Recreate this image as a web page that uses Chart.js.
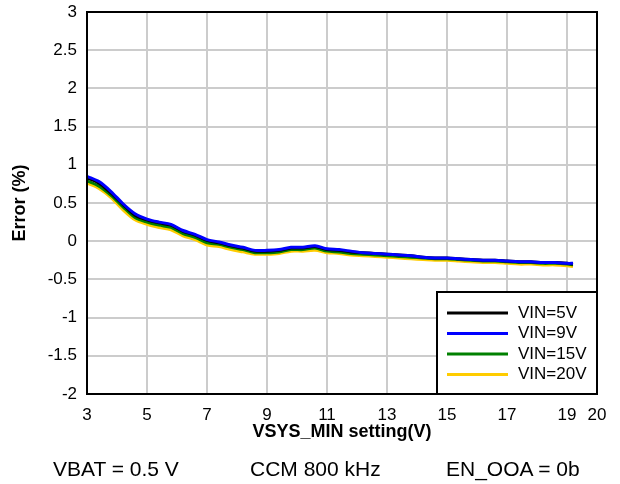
<!DOCTYPE html>
<html>
<head>
<meta charset="utf-8">
<script src="https://cdn.jsdelivr.net/npm/chart.js@4"></script>
<style>
  body { margin: 0; background: #fff; }
  #wrap { position: relative; width: 620px; height: 484px; }
  .note { position: absolute; top: 457px; font: 21px "Liberation Sans", Arial, sans-serif; color: #000; white-space: nowrap; }
</style>
</head>
<body>
<div id="wrap">
  <canvas id="grafico" width="620" height="484"></canvas>
  <div class="note" style="left:53px">VBAT = 0.5 V</div>
  <div class="note" style="left:250px">CCM 800 kHz</div>
  <div class="note" style="left:446px">EN_OOA = 0b</div>
</div>
<script>
// ----------- DADOS -----------
const vsys = [3.0, 3.4, 3.8, 4.2, 4.6, 5.0, 5.4, 5.8, 6.2, 6.6, 7.0, 7.4, 7.8, 8.2, 8.6, 9.0, 9.4, 9.8, 10.2, 10.6,
  11.0, 11.4, 11.8, 12.2, 12.6, 13.0, 13.4, 13.8, 14.2, 14.6, 15.0, 15.4, 15.8, 16.2, 16.6, 17.0, 17.4, 17.8, 18.2, 18.6, 19.0, 19.2];

const vin5 = [0.83, 0.76, 0.63, 0.48, 0.34, 0.28, 0.24, 0.21, 0.13, 0.08, 0.01, -0.02, -0.06, -0.09, -0.13, -0.13, -0.12, -0.09, -0.09, -0.07,
  -0.11, -0.12, -0.14, -0.15, -0.16, -0.17, -0.18, -0.19, -0.21, -0.22, -0.22, -0.23, -0.24, -0.25, -0.25, -0.26, -0.27, -0.27, -0.28, -0.28, -0.29, -0.30];
const vin9 = [0.85, 0.78, 0.65, 0.49, 0.36, 0.29, 0.25, 0.22, 0.14, 0.09, 0.02, -0.01, -0.05, -0.08, -0.12, -0.12, -0.11, -0.08, -0.08, -0.06,
  -0.10, -0.11, -0.13, -0.15, -0.16, -0.17, -0.18, -0.19, -0.21, -0.22, -0.22, -0.23, -0.24, -0.25, -0.25, -0.26, -0.27, -0.27, -0.28, -0.28, -0.29, -0.29];
const vin15 = [0.79, 0.72, 0.60, 0.45, 0.31, 0.25, 0.21, 0.18, 0.10, 0.05, -0.02, -0.04, -0.08, -0.11, -0.15, -0.15, -0.14, -0.11, -0.11, -0.09,
  -0.13, -0.14, -0.16, -0.17, -0.18, -0.19, -0.20, -0.21, -0.22, -0.23, -0.23, -0.24, -0.25, -0.26, -0.26, -0.27, -0.28, -0.28, -0.29, -0.29, -0.30, -0.31];
const vin20 = [0.76, 0.69, 0.57, 0.41, 0.28, 0.22, 0.18, 0.15, 0.07, 0.02, -0.05, -0.07, -0.11, -0.14, -0.17, -0.17, -0.16, -0.13, -0.13, -0.12,
  -0.15, -0.16, -0.18, -0.19, -0.20, -0.21, -0.22, -0.23, -0.24, -0.25, -0.25, -0.26, -0.27, -0.28, -0.28, -0.29, -0.30, -0.30, -0.31, -0.31, -0.32, -0.33];

const xTicks = [3, 5, 7, 9, 11, 13, 15, 17, 19, 20];
const legendas = ["VIN=5V", "VIN=9V", "VIN=15V", "VIN=20V"];
const cores = ["#000000", "#0000ff", "#008000", "#ffcc00"];

const pares = (ys) => vsys.map((x, i) => ({ x: x, y: ys[i] }));
const FONTE = "'Liberation Sans', Arial, sans-serif";

// moldura preta em volta da área do gráfico
const moldura = {
  id: "moldura",
  afterDatasetsDraw(chart) {
    const { ctx, chartArea: a } = chart;
    ctx.save();
    ctx.strokeStyle = "#000";
    ctx.lineWidth = 2;
    ctx.strokeRect(a.left, a.top, a.right - a.left, a.bottom - a.top);
    ctx.restore();
  }
};

// legenda dentro do gráfico, canto inferior direito
const legendaBox = {
  id: "legendaBox",
  afterDraw(chart) {
    const { ctx, chartArea: a } = chart;
    const w = 160, h = 102;
    const x0 = a.right - w, y0 = a.bottom - h;
    ctx.save();
    ctx.fillStyle = "#fff";
    ctx.fillRect(x0, y0, w, h);
    ctx.strokeStyle = "#000";
    ctx.lineWidth = 2;
    ctx.strokeRect(x0, y0, w, h);
    ctx.font = "17px " + FONTE;
    ctx.textBaseline = "middle";
    chart.data.datasets.forEach((ds, i) => {
      const y = y0 + 21 + i * 20.5;
      ctx.strokeStyle = ds.borderColor;
      ctx.lineWidth = 3;
      ctx.beginPath();
      ctx.moveTo(x0 + 10, y);
      ctx.lineTo(x0 + 71, y);
      ctx.stroke();
      ctx.fillStyle = "#000";
      ctx.fillText(ds.label, x0 + 81, y);
    });
    ctx.restore();
  }
};

new Chart(document.getElementById("grafico"), {
  type: "line",
  data: {
    datasets: [
      { label: legendas[0], data: pares(vin5), borderColor: cores[0], order: 1 },
      { label: legendas[1], data: pares(vin9), borderColor: cores[1], order: 0 },
      { label: legendas[2], data: pares(vin15), borderColor: cores[2], order: 2 },
      { label: legendas[3], data: pares(vin20), borderColor: cores[3], order: 3 }
    ]
  },
  options: {
    responsive: false,
    animation: false,
    layout: { padding: { left: 0, top: 12, right: 23, bottom: 41 } },
    elements: {
      line: { borderWidth: 3, tension: 0.3, fill: false },
      point: { radius: 0 }
    },
    plugins: { legend: { display: false }, tooltip: { enabled: false } },
    scales: {
      x: {
        type: "linear",
        min: 3,
        max: 20,
        afterBuildTicks: (s) => { s.ticks = xTicks.map(v => ({ value: v })); },
        afterFit: (s) => { s.height = 49; s.paddingLeft = 0; s.paddingRight = 0; },
        grid: { color: "#cccccc", lineWidth: 2, drawTicks: false },
        border: { display: false },
        ticks: { color: "#000", font: { size: 17, family: FONTE }, padding: 11, maxRotation: 0, autoSkip: false },
        title: { display: true, text: "VSYS_MIN setting(V)", color: "#000", font: { size: 18, weight: "bold", family: FONTE }, padding: 0 }
      },
      y: {
        min: -2,
        max: 3,
        afterFit: (s) => { s.width = 87; s.paddingTop = 0; s.paddingBottom = 0; },
        grid: { color: "#cccccc", lineWidth: 2, drawTicks: false },
        border: { display: false },
        ticks: { stepSize: 0.5, color: "#000", font: { size: 17, family: FONTE }, padding: 10,
          callback: (v) => String(Math.round(v * 10) / 10) },
        title: { display: true, text: "Error (%)", color: "#000", font: { size: 18, weight: "bold", family: FONTE }, padding: 9 }
      }
    }
  },
  plugins: [moldura, legendaBox]
});
</script>
</body>
</html>
